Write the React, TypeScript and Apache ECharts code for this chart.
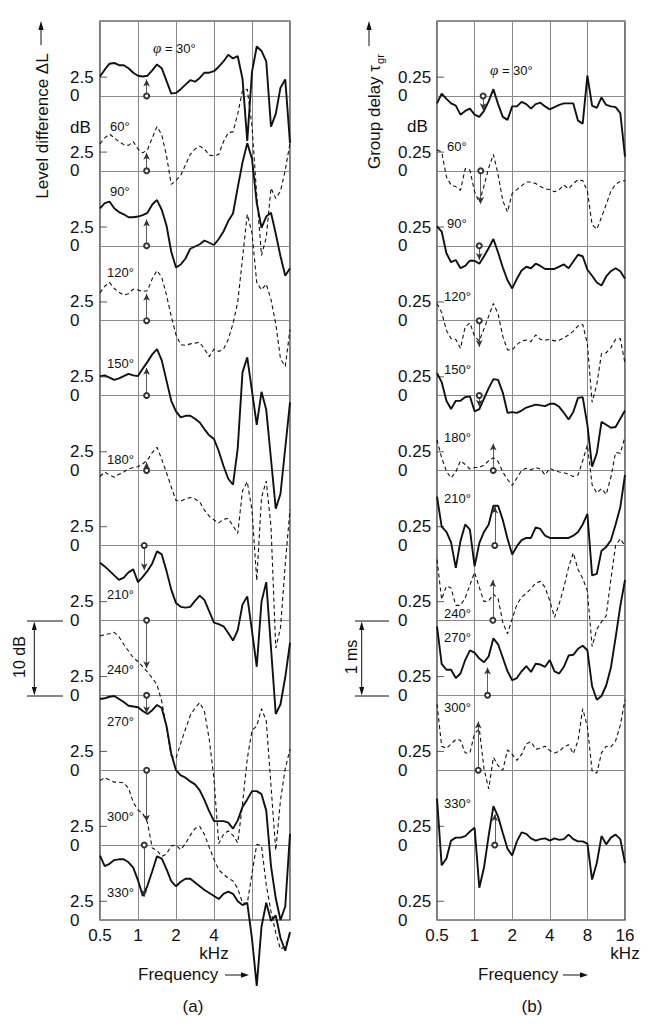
import React, { useEffect, useRef } from 'react';
import * as echarts from 'echarts';

// 1/8-octave frequency grid (kHz)
const FREQ = [0.5, 0.545, 0.595, 0.648, 0.707, 0.771, 0.841, 0.917, 1, 1.091, 1.189, 1.297, 1.414, 1.542, 1.682, 1.834, 2, 2.181, 2.378, 2.594, 2.828, 3.084, 3.364, 3.668, 4, 4.362, 4.757, 5.187, 5.657, 6.169, 6.727, 7.336, 8, 8.724, 9.514, 10.375, 11.314, 12.338, 13.454, 14.672, 16];

const ANGLES = [30, 60, 90, 120, 150, 180, 210, 240, 270, 300, 330];

// (a) level difference, dB (relative to each curve's own 0 line)
const LEVEL_30 = [2.6,3.5,4.3,4.4,4.1,4.1,3.7,3.1,2.7,2.6,2.7,3.4,4.2,3.7,2.0,0.3,0.4,0.9,1.5,2.1,1.9,2.4,3.1,3.1,3.3,3.9,4.6,5.5,5.0,5.3,2.3,-6.0,3.2,6.6,6.0,4.6,-4.1,-2.4,1.1,2.2,-6.3];
const LEVEL_60 = [3.6,4.4,4.9,4.4,3.9,3.5,3.4,3.9,2.9,2.4,2.8,4.4,5.9,4.8,2.0,-1.8,-1.3,-0.6,0.8,2.2,2.9,3.3,2.9,2.1,2.0,2.2,3.9,5.1,5.2,7.6,10.7,10.9,6.0,-3.3,-11.3,-8.9,-2.3,-3.7,-2.7,0.1,3.7];
const LEVEL_90 = [5.0,5.7,5.9,5.0,4.5,4.2,3.8,3.8,3.9,4.1,4.4,5.5,6.1,4.8,2.7,-0.8,-2.9,-2.5,-1.7,-0.4,-0.1,0.2,0.7,0.4,0.1,0.9,1.9,3.3,4.3,7.8,11.1,13.7,11.6,5.7,2.4,3.9,4.4,1.6,-1.4,-4.0,-3.0];
const LEVEL_120 = [3.7,4.6,5.1,4.3,3.8,3.4,3.6,4.2,4.1,3.9,4.0,5.6,6.7,5.8,3.4,0.6,-1.9,-3.2,-3.3,-3.1,-3.0,-2.9,-3.8,-4.8,-3.8,-4.1,-3.8,-2.5,-0.4,2.5,8.3,14.2,11.7,5.1,4.1,4.9,2.8,-0.4,-5.1,-6.1,-1.2];
const LEVEL_150 = [2.6,2.7,2.4,2.1,2.3,2.6,2.9,2.7,2.6,3.6,4.5,5.5,6.2,4.7,2.0,-0.7,-2.1,-2.9,-2.7,-2.7,-3.1,-3.6,-4.5,-5.3,-5.8,-7.4,-9.4,-11.1,-11.9,-7.0,3.1,5.1,0.6,-3.9,0.5,-1.9,-8.5,-15.1,-13.1,-7.0,-0.9];
const LEVEL_180 = [-0.8,-0.2,-0.6,-0.9,-0.5,-0.2,0.2,0.4,0.5,0.9,1.4,2.4,3.1,1.5,-0.3,-2.2,-4.0,-4.1,-3.8,-3.6,-3.8,-4.2,-5.3,-6.1,-6.6,-7.0,-6.5,-6.4,-7.4,-8.4,-2.7,-1.5,-5.3,-14.7,-3.6,-1.4,-7.5,-23.7,-21.0,-12.5,-5.2];
const LEVEL_210 = [-2.3,-2.8,-3.4,-4.0,-4.6,-4.3,-3.6,-3.2,-4.9,-4.2,-3.4,-2.4,-0.8,-1.2,-3.4,-5.9,-7.7,-8.2,-8.3,-8.2,-7.4,-6.7,-7.3,-8.8,-10.3,-10.5,-10.8,-11.7,-12.7,-11.3,-7.9,-6.8,-11.4,-16.2,-7.5,-4.9,-13.7,-22.5,-21.2,-17.6,-13.0];
const LEVEL_240 = [-2.1,-1.9,-1.8,-1.6,-2.2,-3.2,-4.1,-5.0,-5.5,-6.2,-6.9,-7.7,-8.6,-10.8,-14.4,-18.1,-18.4,-16.4,-14.5,-12.7,-11.7,-11.0,-12.2,-15.9,-21.2,-29.8,-28.6,-28.1,-28.7,-29.7,-24.5,-18.5,-14.7,-14.1,-11.8,-13.4,-22.1,-30.7,-24.0,-19.8,-17.2];
const LEVEL_270 = [-0.5,-0.4,-0.2,-0.1,-0.5,-0.9,-1.4,-1.5,-1.6,-2.1,-2.5,-2.0,-1.3,-1.7,-4.1,-7.8,-10.0,-10.7,-11.0,-11.5,-11.9,-12.7,-14.0,-15.5,-16.8,-16.8,-16.8,-17.0,-17.8,-16.7,-14.9,-13.9,-12.8,-12.8,-13.2,-15.4,-22.8,-27.1,-30.0,-28.2,-18.5];
const LEVEL_300 = [-1.4,-1.0,-1.3,-1.6,-1.6,-1.7,-2.4,-4.3,-5.3,-5.8,-7.0,-10.4,-10.7,-11.5,-11.2,-10.1,-10.0,-10.6,-9.8,-8.7,-7.8,-7.5,-8.6,-10.3,-11.9,-13.3,-13.9,-14.4,-14.8,-15.8,-17.7,-17.8,-13.8,-9.9,-10.1,-15.3,-18.9,-21.7,-23.9,-23.5,-21.9];
const LEVEL_330 = [-1.4,-2.8,-2.5,-2.0,-1.9,-1.9,-2.3,-3.0,-4.7,-6.8,-5.4,-3.5,-1.5,-1.8,-3.2,-4.8,-5.5,-4.9,-4.5,-4.5,-5.0,-5.5,-6.0,-6.4,-6.8,-7.2,-6.5,-6.2,-6.5,-7.5,-8.0,-7.7,-12.5,-18.8,-10.9,-7.7,-10.1,-9.4,-12.4,-14.1,-11.6];

// (b) group delay, ms (relative to each curve's own 0 line)
const DELAY_30 = [-0.1,0.03,-0.04,-0.1,-0.13,-0.25,-0.2,-0.17,-0.25,-0.28,-0.2,-0.07,0.09,-0.11,-0.28,-0.32,-0.14,-0.14,-0.08,-0.11,-0.17,-0.11,-0.09,-0.14,-0.18,-0.15,-0.12,-0.1,-0.1,-0.1,-0.33,-0.37,0.27,-0.13,-0.16,-0.02,-0.12,-0.14,-0.15,-0.23,-0.81];
const DELAY_60 = [0.28,0.25,-0.08,-0.19,-0.21,-0.26,0.03,0.01,-0.28,-0.42,-0.2,0.04,0.22,-0.05,-0.4,-0.55,-0.3,-0.25,-0.2,-0.15,-0.15,-0.17,-0.21,-0.24,-0.25,-0.28,-0.25,-0.19,-0.24,-0.17,-0.12,-0.13,-0.27,-0.72,-0.78,-0.62,-0.45,-0.27,-0.18,-0.14,-0.13];
const DELAY_90 = [0.26,0.19,-0.1,-0.22,-0.19,-0.3,-0.27,-0.2,-0.2,-0.24,-0.14,-0.03,0.09,-0.09,-0.29,-0.46,-0.57,-0.44,-0.33,-0.28,-0.3,-0.24,-0.27,-0.31,-0.31,-0.31,-0.28,-0.25,-0.3,-0.21,-0.12,-0.14,-0.32,-0.4,-0.49,-0.53,-0.41,-0.34,-0.3,-0.34,-0.44];
const DELAY_120 = [0.23,0.11,-0.13,-0.24,-0.25,-0.37,-0.08,-0.03,-0.21,-0.27,-0.11,0.06,0.23,0.09,-0.21,-0.39,-0.39,-0.32,-0.27,-0.26,-0.28,-0.19,-0.25,-0.26,-0.25,-0.27,-0.26,-0.23,-0.19,-0.14,-0.07,-0.05,-0.31,-1.09,-0.85,-0.44,-0.43,-0.36,-0.25,-0.24,-0.57];
const DELAY_150 = [0.3,0.18,-0.07,-0.18,-0.07,-0.07,-0.02,-0.01,-0.21,-0.18,-0.04,0.1,0.22,0.21,0.04,-0.23,-0.22,-0.23,-0.2,-0.16,-0.14,-0.12,-0.13,-0.14,-0.11,-0.11,-0.15,-0.23,-0.32,-0.22,-0.03,-0.02,-0.39,-0.95,-0.77,-0.35,-0.39,-0.43,-0.42,-0.31,-0.2];
const DELAY_180 = [0.41,0.17,-0.01,-0.1,-0.02,0.13,0.08,0.02,0.04,0.04,0.07,0.13,0.17,0.12,-0.02,-0.12,-0.2,-0.1,0,0.03,0.01,0.04,0.02,-0.06,0.03,0,-0.02,-0.03,-0.05,-0.08,-0.06,0.13,0.34,-0.19,-0.3,-0.24,-0.32,-0.09,0.24,0.23,0.45];
const DELAY_210 = [0.65,0.25,0.18,0.04,-0.3,0.06,0.28,0.21,-0.28,0.03,0.18,0.28,0.53,0.53,0.34,0.09,-0.12,-0.01,0.07,0.1,0.1,0.24,0.22,0.13,0.1,0.1,0.1,0.1,0.1,0.13,0.18,0.28,0.42,-0.4,-0.38,-0.07,-0.02,0.07,0.28,0.51,0.94];
const DELAY_240 = [0.81,0.28,0.46,0.43,0.2,0.2,0.3,0.47,0.64,0.44,0.25,0.26,0.35,0.29,-0.03,-0.18,0.02,0.21,0.31,0.36,0.42,0.5,0.52,0.44,0.26,0.04,0.22,0.44,0.71,0.9,0.68,0.56,0.39,-0.35,-0.12,-0.02,0.06,0.55,1.0,1.09,0.99];
const DELAY_270 = [0.92,0.42,0.34,0.34,0.23,0.29,0.47,0.6,0.57,0.49,0.44,0.52,0.76,0.68,0.5,0.32,0.2,0.23,0.32,0.39,0.31,0.42,0.41,0.38,0.47,0.32,0.29,0.38,0.53,0.54,0.62,0.66,0.6,0.12,-0.06,-0.01,0.13,0.37,0.77,1.19,1.54];
const DELAY_300 = [0.88,0.32,0.29,0.35,0.41,0.4,0.23,0.23,0.49,0.55,0.02,-0.25,0.17,0.06,0,0.27,0.21,0.13,0.21,0.35,0.38,0.28,0.29,0.32,0.26,0.23,0.25,0.31,0.34,0.22,0.39,0.82,0.58,-0.01,-0.04,0.23,0.32,0.31,0.39,0.6,0.94];
const DELAY_330 = [0.62,-0.27,-0.18,0.06,0.1,0.1,0.12,0.18,0.23,-0.57,-0.3,0.13,0.52,0.38,0.16,-0.05,-0.14,0.05,0.17,0.15,0.09,0.06,0.08,0.09,0.06,0.09,0.07,0.08,0.14,0.08,0.05,0.05,0.02,-0.46,-0.24,0.12,0.01,0.1,0.14,0.08,-0.24];

const LEVELS = [LEVEL_30, LEVEL_60, LEVEL_90, LEVEL_120, LEVEL_150, LEVEL_180, LEVEL_210, LEVEL_240, LEVEL_270, LEVEL_300, LEVEL_330];
const DELAYS = [DELAY_30, DELAY_60, DELAY_90, DELAY_120, DELAY_150, DELAY_180, DELAY_210, DELAY_240, DELAY_270, DELAY_300, DELAY_330];

// marker arrows (frequency in kHz, length in dB / ms)
const ARROW_FREQ_A = [1.17, 1.17, 1.17, 1.17, 1.17, 1.17, 1.12, 1.17, 1.17, 1.17, 1.12];
const ARROW_LEN_A = [2.2, 2.4, 3.5, 3.6, 3.7, 1.1, -3.3, -6.4, -2.4, -6.9, -6.9];
const ARROW_FREQ_B = [1.17, 1.12, 1.09, 1.09, 1.09, 1.41, 1.45, 1.4, 1.27, 1.07, 1.45];
const ARROW_LEN_B = [-0.19, -0.44, -0.19, -0.35, -0.15, 0.36, 0.52, 0.54, 0.37, 0.65, 0.41];

// layout (pixels) — not data
const LABEL_POS_A = [[153, 48], [110, 126], [110, 191], [107, 272], [107, 363], [107, 459], [107, 594], [107, 669], [107, 721], [107, 816], [107, 892]];
const LABEL_POS_B = [[490, 70], [447, 146], [447, 223], [444, 296], [444, 369], [444, 437], [444, 498], [444, 613], [444, 637], [444, 707], [444, 803]];

const FONT = '"Liberation Sans", Arial, Helvetica, sans-serif';
const INK = '#111';
const GRIDC = '#8a8a8a';
const NBASE = 12;

function curveSeries(values: number[], k: number, step: number, idx: number, yIdx: number, af: number, al: number) {
  const base = -step * k;
  const solid = k % 2 === 0;
  return {
    type: 'line',
    xAxisIndex: idx,
    yAxisIndex: yIdx,
    data: FREQ.map((f, i) => [f, values[i] + base]),
    showSymbol: false,
    symbol: 'none',
    clip: false,
    silent: true,
    z: 3,
    lineStyle: solid
      ? { color: INK, width: 1.9, type: 'solid' }
      : { color: INK, width: 1.1, type: [4, 3] },
    markLine: {
      silent: true,
      symbol: ['emptyCircle', 'arrow'],
      symbolSize: [5, 7],
      label: { show: false },
      lineStyle: { color: '#333', width: 0.8, type: 'solid' },
      emphasis: { disabled: true },
      data: [[{ coord: [af, base] }, { coord: [af, base + al] }]],
    },
  };
}

function tickSeries(idx: number, yIdx: number, step: number, off: number) {
  return {
    type: 'scatter',
    xAxisIndex: idx,
    yAxisIndex: yIdx,
    symbol: 'rect',
    symbolSize: [7, 1.1],
    symbolOffset: [3.5, 0],
    clip: false,
    silent: true,
    itemStyle: { color: '#444' },
    data: Array.from({ length: NBASE }, (_, k) => [FREQ[0], -step * k + off]),
  };
}

function txt(x: number, y: number, text: string, size: number, extra: any = {}, rot = 0) {
  return {
    type: 'text', x, y, rotation: rot, silent: true, z: 10,
    style: { text, fontSize: size, fontFamily: FONT, fill: INK, align: 'left', verticalAlign: 'middle', ...extra },
  };
}
function seg(x1: number, y1: number, x2: number, y2: number, w = 1) {
  return { type: 'line', silent: true, z: 10, shape: { x1, y1, x2, y2 }, style: { stroke: INK, lineWidth: w } };
}
function tri(points: number[][]) {
  return { type: 'polygon', silent: true, z: 10, shape: { points }, style: { fill: INK } };
}

export default function App() {
  const ref = useRef<HTMLDivElement>(null);
  useEffect(() => {
    if (!ref.current) return;
    const chart = echarts.init(ref.current, undefined, { renderer: 'svg' });

    const xLabA = (v: number) => {
      const r = Math.round(v * 100) / 100;
      if (r === 0.5) return '0.5';
      if (r === 1) return '1';
      if (r === 2) return '2';
      if (r === 4) return '4\nkHz';
      return '';
    };
    const xLabB = (v: number) => {
      const r = Math.round(v * 100) / 100;
      if (r === 0.5) return '0.5';
      if (r === 16) return '16\nkHz';
      if ([1, 2, 4, 8].includes(r)) return String(r);
      return '';
    };
    const yLab = (step: number, txtTop: string) => (v: number) => {
      if (v > step * 0.26) return '';
      const r = ((v % step) + step) % step;
      if (Math.abs(r) < 1e-6 || Math.abs(r - step) < 1e-6) return '0';
      if (Math.abs(r - step / 4) < 1e-6) return txtTop;
      return '';
    };

    const xAxisCommon = {
      type: 'log', logBase: 2, min: 0.5, max: 16,
      axisLine: { show: false }, axisTick: { show: false },
      splitLine: { show: true, lineStyle: { color: GRIDC, width: 1 } },
      minorSplitLine: { show: false },
    };
    const labelStyle = { fontSize: 17, color: INK, fontFamily: FONT };

    const series: any[] = [];
    ANGLES.forEach((_, k) => {
      series.push(curveSeries(LEVELS[k], k, 10, 0, 0, ARROW_FREQ_A[k], ARROW_LEN_A[k]));
    });
    ANGLES.forEach((_, k) => {
      series.push(curveSeries(DELAYS[k], k, 1, 1, 2, ARROW_FREQ_B[k], ARROW_LEN_B[k]));
    });
    series.push(tickSeries(0, 0, 10, 2.5));
    series.push(tickSeries(1, 2, 1, 0.25));

    const graphic: any[] = [];
    ANGLES.forEach((a, k) => {
      const t = k === 0 ? `{i|φ} = ${a}°` : `${a}°`;
      const rich = { i: { fontStyle: 'italic', fontFamily: '"Liberation Serif", "DejaVu Serif", serif', fontSize: 15, fill: INK } };
      graphic.push(txt(LABEL_POS_A[k][0], LABEL_POS_A[k][1], t, 13, { rich }));
      graphic.push(txt(LABEL_POS_B[k][0], LABEL_POS_B[k][1], t, 13, { rich }));
    });
    // dB unit labels
    graphic.push(txt(70, 127, 'dB', 17));
    graphic.push(txt(407, 126, 'dB', 17));
    // axis titles
    graphic.push(txt(42, 126, 'Level difference ΔL', 17, { align: 'center' }, Math.PI / 2));
    graphic.push(seg(41, 45, 41, 28, 1));
    graphic.push(tri([[41, 21], [38.3, 30], [43.7, 30]]));
    graphic.push(txt(374, 117, 'Group delay τ', 17, { align: 'center' }, Math.PI / 2));
    graphic.push(txt(380, 59, 'gr', 11, { align: 'center' }, Math.PI / 2));
    graphic.push(seg(369, 46, 369, 28, 1));
    graphic.push(tri([[369, 21], [366.3, 30], [371.7, 30]]));
    // scale bars
    graphic.push(seg(27, 621, 63, 621, 1), seg(27, 696, 63, 696, 1), seg(34.3, 628, 34.3, 689, 1));
    graphic.push(tri([[34.3, 621.5], [31.8, 630], [36.8, 630]]), tri([[34.3, 695.5], [31.8, 687], [36.8, 687]]));
    graphic.push(txt(19, 657, '10 dB', 16, { align: 'center' }, Math.PI / 2));
    graphic.push(seg(355, 621, 389, 621, 1), seg(355, 696, 389, 696, 1), seg(361.7, 628, 361.7, 689, 1));
    graphic.push(tri([[361.7, 621.5], [359.2, 630], [364.2, 630]]), tri([[361.7, 695.5], [359.2, 687], [364.2, 687]]));
    graphic.push(txt(351, 657, '1 ms', 16, { align: 'center' }, Math.PI / 2));
    // frequency titles
    graphic.push(txt(138, 974, 'Frequency', 17));
    graphic.push(seg(225, 975, 243, 975, 1), tri([[249, 975], [241, 972.3], [241, 977.7]]));
    graphic.push(txt(478, 974, 'Frequency', 17));
    graphic.push(seg(563, 975, 582, 975, 1), tri([[588, 975], [580, 972.3], [580, 977.7]]));
    graphic.push(txt(193, 1006, '(a)', 17, { align: 'center' }));
    graphic.push(txt(532, 1006, '(b)', 17, { align: 'center' }));

    const option: any = {
      animation: false,
      backgroundColor: '#fff',
      grid: [
        { left: 100, top: 21, width: 190, height: 899, show: true, borderColor: '#222', borderWidth: 1.2, backgroundColor: 'transparent' },
        { left: 437, top: 21, width: 188, height: 899, show: true, borderColor: '#222', borderWidth: 1.2, backgroundColor: 'transparent' },
      ],
      xAxis: [
        { ...xAxisCommon, gridIndex: 0, axisLabel: { ...labelStyle, margin: 6, lineHeight: 18, showMinLabel: true, showMaxLabel: true, formatter: xLabA } },
        { ...xAxisCommon, gridIndex: 1, axisLabel: { ...labelStyle, margin: 6, lineHeight: 18, showMinLabel: true, showMaxLabel: true, formatter: xLabB } },
      ],
      yAxis: [
        { type: 'value', gridIndex: 0, min: -110, max: 10, interval: 10, position: 'left', axisLine: { show: false }, axisTick: { show: false }, axisLabel: { show: false }, splitLine: { show: true, lineStyle: { color: GRIDC, width: 1 } } },
        { type: 'value', gridIndex: 0, min: -110, max: 10, interval: 2.5, position: 'left', offset: 0, axisLine: { show: false }, axisTick: { show: false }, splitLine: { show: false }, axisLabel: { ...labelStyle, align: 'left', margin: 30, showMinLabel: true, showMaxLabel: true, formatter: yLab(10, '2.5') } },
        { type: 'value', gridIndex: 1, min: -11, max: 1, interval: 1, position: 'left', axisLine: { show: false }, axisTick: { show: false }, axisLabel: { show: false }, splitLine: { show: true, lineStyle: { color: GRIDC, width: 1 } } },
        { type: 'value', gridIndex: 1, min: -11, max: 1, interval: 0.25, position: 'left', offset: 0, axisLine: { show: false }, axisTick: { show: false }, splitLine: { show: false }, axisLabel: { ...labelStyle, align: 'left', margin: 39, showMinLabel: true, showMaxLabel: true, formatter: yLab(1, '0.25') } },
      ],
      series,
      graphic,
    };
    chart.setOption(option);
    return () => chart.dispose();
  }, []);

  return <div ref={ref} style={{ position: 'absolute', left: 0, top: 0, width: 657, height: 1024, background: '#fff' }} />;
}
